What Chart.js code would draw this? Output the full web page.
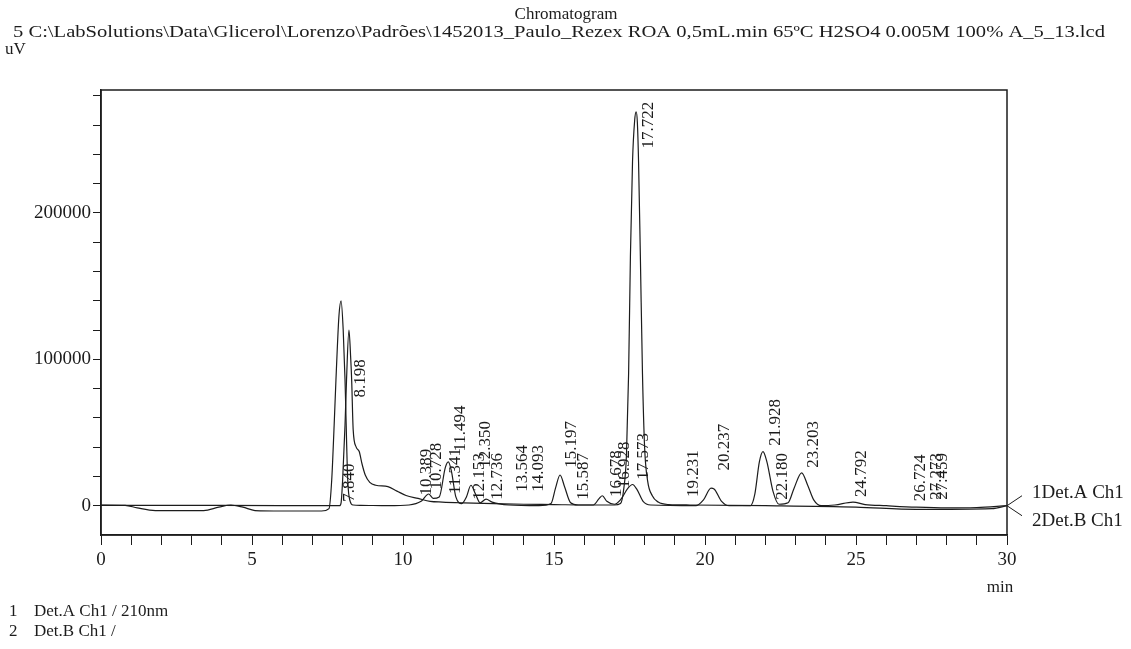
<!DOCTYPE html>
<html>
<head>
<meta charset="utf-8">
<script src="https://cdn.jsdelivr.net/npm/chart.js@4.4.1/dist/chart.umd.min.js"></script>
<style>
    html, body { margin: 0; padding: 0; background: #fff; }
    #wrap { position: relative; width: 1131px; height: 649px; }
</style>
</head>
<body>
<div id="wrap"><canvas id="chromChart" width="1131" height="649"></canvas></div>
<script>
// Det.A Ch1 trace (min, uV)
const timeA = [0, 0.8, 1.2, 1.8, 3.4, 3.9, 4.3, 4.7, 5.1, 6.0, 7.3, 7.55, 7.64, 7.72, 7.78, 7.88, 7.95, 8.02, 8.08, 8.17, 8.25, 8.35, 8.6,
    9.5, 10.2, 10.6, 10.85, 11.0, 11.2, 11.4, 11.5, 11.6, 11.75, 11.95, 12.1, 12.25, 12.4, 12.55, 12.75, 12.95, 13.5,
    14.5, 14.9, 15.05, 15.2, 15.35, 15.55, 15.8, 16.3, 16.5, 16.6, 16.75, 17.0, 17.2, 17.45, 17.6, 17.75, 17.95, 18.2,
    19.7, 19.95, 20.2, 20.3, 20.55, 20.8, 21.5, 21.65, 21.8, 21.92, 22.05, 22.25, 22.45, 22.75, 22.95, 23.2, 23.4, 23.6,
    23.85, 24.3, 24.9, 25.3, 26.0, 27.0, 28.0, 29.0, 30.0];
const signalA = [500, 300, -1500, -3300, -3300, -1000, 500, -1000, -3300, -3600, -3600, -2000, 17700, 55000, 86000, 130000, 140000, 120000, 86000, 17700, 3000, 500, 300,
    0, 500, 3000, 8000, 5000, 6000, 26000, 30000, 24000, 6000, 1500, 6000, 14000, 8000, 2000, 4500, 2500, 500,
    0, 1500, 12000, 21000, 13000, 2000, 500, 500, 5000, 6800, 3000, 1000, 4000, 12000, 14500, 11000, 3000, 500,
    0, 4000, 12000, 11500, 3000, 0, 0, 8000, 30000, 37000, 30000, 10000, 1000, 2000, 12000, 22500, 14000, 4000,
    0, 500, 2500, 800, 0, -1000, -1500, -1200, 0];

// Det.B Ch1 trace (min, uV)
const timeB = [0, 4.0, 7.9, 7.95, 8.0, 8.08, 8.13, 8.21, 8.27, 8.3, 8.35, 8.45, 8.55, 8.65, 8.75, 8.9, 9.1, 9.5, 9.8, 10.1, 10.5, 10.9,
    11.3, 12.0, 13.0, 14.0, 15.0, 16.0, 17.0, 17.2, 17.3, 17.4, 17.47, 17.53, 17.6, 17.67, 17.72, 17.76, 17.8, 17.86,
    17.93, 18.0, 18.1, 18.25, 18.45, 18.8, 19.5, 22.0, 25.0, 27.0, 29.5, 30.0];
const signalB = [200, 200, 0, 2000, 17000, 55000, 86000, 120000, 100000, 86000, 52000, 40000, 37000, 28000, 21000, 16000, 14000, 13000, 10000, 7000, 5000, 3000,
    2500, 2000, 1500, 1000, 800, 500, 500, 1500, 10000, 35000, 90000, 170000, 235000, 263000, 269000, 262000, 235000, 170000,
    90000, 40000, 17000, 7000, 2500, 800, 500, 0, -1000, -2500, -2000, 0];

// retention time labels and the signal level where each label starts
const peakTimes = [7.840, 8.198, 10.389, 10.728, 11.341, 11.494, 12.153, 12.350, 12.736, 13.564, 14.093, 15.197, 15.587,
    16.678, 16.928, 17.573, 17.722, 19.231, 20.237, 21.928, 22.180, 23.203, 24.792, 26.724, 27.273, 27.459];
const peakLabelBase = [2700, 74000, 7000, 11000, 8000, 37000, 4000, 26000, 4000, 9500, 9500, 26000, 4000,
    6000, 12000, 17700, 244000, 6000, 24000, 41000, 4100, 26000, 6000, 3000, 4000, 4000];

const xTicks = [0, 1, 2, 3, 4, 5, 6, 7, 8, 9, 10, 11, 12, 13, 14, 15, 16, 17, 18, 19, 20, 21, 22, 23, 24, 25, 26, 27, 28, 29, 30];
const xTickLabels = [0, 5, 10, 15, 20, 25, 30];
const yTicks = [0, 20000, 40000, 60000, 80000, 100000, 120000, 140000, 160000, 180000, 200000, 220000, 240000, 260000, 280000];
const yTickLabels = [0, 100000, 200000];

const channelNames = ['1Det.A Ch1', '2Det.B Ch1'];
const legendLines = [['1', 'Det.A Ch1 / 210nm'], ['2', 'Det.B Ch1 /']];

const SERIF = "'Liberation Serif', 'Times New Roman', serif";
const INK = '#1c1c1c';

function toPoints(xs, ys) {
    return xs.map((x, i) => ({ x: x, y: ys[i] }));
}

const textPlugin = {
    id: 'chromText',
    afterDraw(chart) {
        const ctx = chart.ctx;
        const area = chart.chartArea;
        const xs = chart.scales.x;
        const ys = chart.scales.y;

        ctx.save();
        ctx.strokeStyle = INK;
        ctx.lineWidth = 1.5;
        ctx.strokeRect(area.left, area.top, area.right - area.left, area.bottom - area.top);

        ctx.fillStyle = INK;
        ctx.textBaseline = 'middle';

        ctx.font = '17px ' + SERIF;
        ctx.textAlign = 'center';
        ctx.fillText('Chromatogram', 566, 15);

        ctx.textAlign = 'left';
        ctx.font = '16px ' + SERIF;
        const sub = '5 C:\\LabSolutions\\Data\\Glicerol\\Lorenzo\\Padrões\\1452013_Paulo_Rezex ROA 0,5mL.min 65ºC H2SO4 0.005M 100% A_5_13.lcd';
        const w = ctx.measureText(sub).width;
        ctx.save();
        ctx.translate(13, 33);
        ctx.scale(1092 / w, 1);
        ctx.fillText(sub, 0, 0);
        ctx.restore();

        ctx.font = '17px ' + SERIF;
        ctx.fillText('uV', 5, 50);
        ctx.textAlign = 'center';
        ctx.fillText('min', 1000, 588);

        ctx.textAlign = 'left';
        legendLines.forEach((row, i) => {
            ctx.fillText(row[0], 9, 612 + i * 20);
            ctx.fillText(row[1], 34, 612 + i * 20);
        });

        // channel markers at the right edge
        const y0 = ys.getPixelForValue(0);
        ctx.lineWidth = 1;
        ctx.beginPath();
        ctx.moveTo(area.right + 15, y0 - 10);
        ctx.lineTo(area.right, y0);
        ctx.lineTo(area.right + 15, y0 + 10);
        ctx.stroke();
        ctx.font = '19px ' + SERIF;
        ctx.fillText(channelNames[0], 1032, y0 - 13);
        ctx.fillText(channelNames[1], 1032, y0 + 15);

        // rotated retention time labels
        ctx.font = '17px ' + SERIF;
        peakTimes.forEach((rt, i) => {
            const px = xs.getPixelForValue(rt) + 12;
            const py = ys.getPixelForValue(peakLabelBase[i]);
            ctx.save();
            ctx.translate(px, py);
            ctx.rotate(-Math.PI / 2);
            ctx.textAlign = 'left';
            ctx.fillText(rt.toFixed(3), 0, 0);
            ctx.restore();
        });
        ctx.restore();
    }
};

const chart = new Chart(document.getElementById('chromChart'), {
    type: 'line',
    data: {
        datasets: [
            {
                label: 'Det.A Ch1',
                data: toPoints(timeA, signalA),
                borderColor: INK,
                borderWidth: 1.2,
                pointRadius: 0,
                cubicInterpolationMode: 'monotone',
                fill: false
            },
            {
                label: 'Det.B Ch1',
                data: toPoints(timeB, signalB),
                borderColor: INK,
                borderWidth: 1.2,
                pointRadius: 0,
                cubicInterpolationMode: 'monotone',
                fill: false
            }
        ]
    },
    options: {
        responsive: false,
        animation: false,
        devicePixelRatio: 1,
        layout: { padding: { top: 90, right: 124, bottom: 74, left: 0 } },
        plugins: { legend: { display: false }, tooltip: { enabled: false } },
        scales: {
            x: {
                type: 'linear',
                min: 0,
                max: 30,
                afterFit: (scale) => { scale.height = 40; },
                afterBuildTicks: (scale) => { scale.ticks = xTicks.map(v => ({ value: v })); },
                ticks: {
                    autoSkip: false,
                    maxRotation: 0,
                    padding: 4,
                    color: INK,
                    font: { family: SERIF, size: 19 },
                    callback: (v) => xTickLabels.includes(v) ? String(v) : ''
                },
                grid: { drawOnChartArea: false, drawTicks: true, tickLength: 10, color: INK, lineWidth: 1 },
                border: { display: true, color: INK, width: 1.5 }
            },
            y: {
                type: 'linear',
                min: -20000,
                max: 284000,
                afterFit: (scale) => { scale.width = 101; },
                afterBuildTicks: (scale) => { scale.ticks = yTicks.map(v => ({ value: v })); },
                ticks: {
                    autoSkip: false,
                    padding: 2,
                    color: INK,
                    font: { family: SERIF, size: 19 },
                    callback: (v) => yTickLabels.includes(v) ? String(v) : ''
                },
                grid: { drawOnChartArea: false, drawTicks: true, tickLength: 8, color: INK, lineWidth: 1 },
                border: { display: true, color: INK, width: 1.5 }
            }
        }
    },
    plugins: [textPlugin]
});
</script>
</body>
</html>
